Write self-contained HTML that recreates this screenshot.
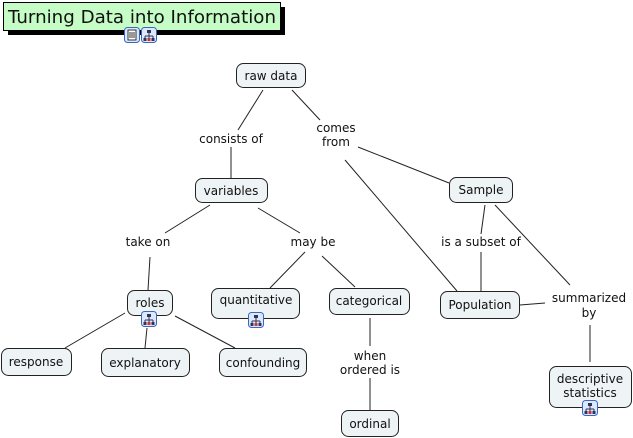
<!DOCTYPE html>
<html><head><meta charset="utf-8"><style>
html,body{margin:0;padding:0;background:#fff;width:633px;height:438px;overflow:hidden}
svg{display:block}
text{font-family:"DejaVu Sans","Liberation Sans",sans-serif;font-size:12px;fill:#111}
.n{fill:#eef3f5;stroke:#222;stroke-width:1}
.l{stroke:#222;stroke-width:1;fill:none}
</style></head><body>
<svg width="633" height="438" viewBox="0 0 633 438">
<defs>
<g id="ic">
<rect x="0.5" y="0.5" width="15" height="15" rx="3" fill="#dbe8ff" stroke="#3a66c0"/>
<rect x="6" y="3" width="4" height="3" fill="#335"/>
<path d="M8 6v3M4 9h8M4 9v2M12 9v2M8 9v2" stroke="#335" fill="none"/>
<rect x="2.5" y="11" width="3" height="3" fill="#335"/><rect x="6.5" y="11" width="3" height="3" fill="#c33"/><rect x="10.5" y="11" width="3" height="3" fill="#335"/>
</g>
</defs>
<!-- title -->
<rect x="8" y="7" width="277" height="28" fill="#000"/>
<rect x="3.5" y="2.5" width="277" height="28" fill="#c6fcc6" stroke="#000"/>
<text x="8" y="23" style="font-size:18px" textLength="268" lengthAdjust="spacingAndGlyphs">Turning Data into Information</text>
<rect x="124.5" y="27.5" width="15" height="15" rx="3" fill="#dbe8ff" stroke="#3a66c0"/>
<rect x="128" y="30" width="8" height="10" fill="#fff" stroke="#333"/>
<path d="M129 33h6M129 35h6M129 37h6" stroke="#333"/>
<use href="#ic" x="141" y="27"/>
<!-- lines -->
<path class="l" d="M263 90L238 130M231 147L231 178M292 90L320 120M358 147L449 183M345 160L457 291
M210 205L165 233M150 257L148 290M258 208L300 233M305 252L270 288M322 256L355 287
M485 205L481 234M481 252L481 291M495 205L570 285M520 305L545 303M590 325L590 362
M125 313L65 348M147 328L145 348M175 316L235 348M370 318L370 346M370 378L370 410"/>
<!-- nodes -->
<rect class="n" x="236.5" y="63.5" width="69" height="24" rx="7"/><text x="271" y="80" text-anchor="middle">raw data</text>
<rect class="n" x="195.5" y="178.5" width="72" height="24" rx="7"/><text x="231" y="195" text-anchor="middle">variables</text>
<rect class="n" x="449.5" y="177.5" width="63" height="25" rx="7"/><text x="481" y="194" text-anchor="middle">Sample</text>
<rect class="n" x="127.5" y="290.5" width="45" height="25" rx="7"/><text x="150" y="307" text-anchor="middle">roles</text>
<use href="#ic" x="141" y="311"/>
<rect class="n" x="211.5" y="288.5" width="88" height="30" rx="7"/><text x="256" y="304" text-anchor="middle">quantitative</text>
<use href="#ic" x="248" y="312"/>
<rect class="n" x="329.5" y="288.5" width="80" height="26" rx="7"/><text x="369" y="305" text-anchor="middle">categorical</text>
<rect class="n" x="440.5" y="291.5" width="79" height="27" rx="7"/><text x="480" y="309" text-anchor="middle">Population</text>
<rect class="n" x="1.5" y="348.5" width="70" height="27" rx="7"/><text x="36" y="366" text-anchor="middle">response</text>
<rect class="n" x="101.5" y="348.5" width="88" height="28" rx="7"/><text x="145" y="367" text-anchor="middle">explanatory</text>
<rect class="n" x="219.5" y="348.5" width="87" height="28" rx="7"/><text x="263" y="367" text-anchor="middle">confounding</text>
<rect class="n" x="341.5" y="410.5" width="57" height="26" rx="7"/><text x="370" y="428" text-anchor="middle">ordinal</text>
<rect class="n" x="549.5" y="366.5" width="82" height="41" rx="7"/><text x="590" y="383" text-anchor="middle">descriptive</text><text x="590" y="397" text-anchor="middle">statistics</text>
<use href="#ic" x="582" y="400"/>
<!-- labels -->
<text x="231" y="143" text-anchor="middle">consists of</text>
<text x="336" y="132" text-anchor="middle">comes</text><text x="336" y="146" text-anchor="middle">from</text>
<text x="148" y="246" text-anchor="middle">take on</text>
<text x="313" y="246" text-anchor="middle">may be</text>
<text x="481" y="246" text-anchor="middle">is a subset of</text>
<text x="589" y="302" text-anchor="middle">summarized</text><text x="589" y="317" text-anchor="middle">by</text>
<text x="370" y="360" text-anchor="middle">when</text><text x="370" y="374" text-anchor="middle">ordered is</text>
</svg>
</body></html>
